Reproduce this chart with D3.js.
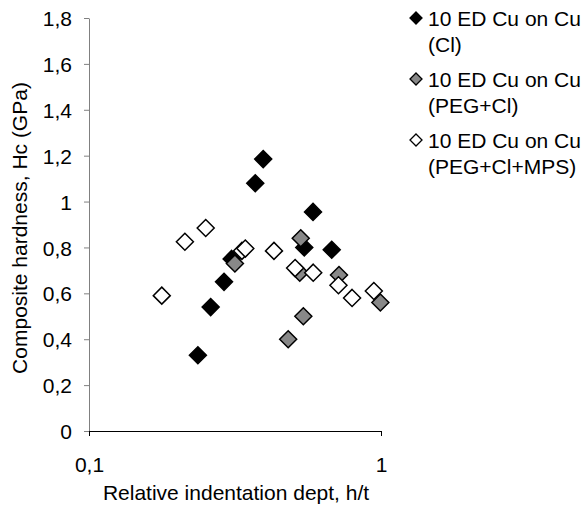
<!DOCTYPE html>
<html>
  <head>
    <meta charset='UTF-8'>
    <style>
    body { margin: 0; background: #fff; }
    svg { font-family: 'Liberation Sans', Arial, sans-serif; }
    text { font-size: 21px; fill: #000; }
    </style>
  </head>
  <body>
  <script src='https://cdnjs.cloudflare.com/ajax/libs/d3/7.8.5/d3.min.js'></script>
  <script>

    // series values
    var clX = [0.236, 0.261, 0.290, 0.308, 0.371, 0.395, 0.546, 0.585, 0.678];
    var clY = [0.33, 0.54, 0.65, 0.75, 1.08, 1.185, 0.80, 0.955, 0.79];

    var pegX = [0.316, 0.531, 0.527, 0.718, 0.995, 0.542, 0.481];
    var pegY = [0.73, 0.84, 0.69, 0.68, 0.56, 0.50, 0.40];

    var mpsX = [0.1775, 0.213, 0.251, 0.334, 0.343, 0.430, 0.508, 0.586, 0.715, 0.796, 0.945];
    var mpsY = [0.59, 0.825, 0.885, 0.785, 0.795, 0.785, 0.71, 0.69, 0.635, 0.58, 0.61];

    var seriesNames = ['10 ED Cu on Cu', '10 ED Cu on Cu', '10 ED Cu on Cu'];
    var seriesSub = ['(Cl)', '(PEG+Cl)', '(PEG+Cl+MPS)'];
    var seriesFill = ['#000', '#888', '#fff'];

    var yTicks = [0, 0.2, 0.4, 0.6, 0.8, 1, 1.2, 1.4, 1.6, 1.8];
    var xTicks = [0.1, 1];

    var W = 584, H = 511;
    var svg = d3.select('body').append('svg')
      .attr('width', W)
      .attr('height', H);

    var x = d3.scaleLog().domain([0.1, 1]).range([89, 381]);
    var y = d3.scaleLinear().domain([0, 1.8]).range([431, 18]);

    var comma = function(d) { return String(+d.toFixed(1)).replace('.', ','); };

    // y axis (grey)
    var gy = svg.append('g')
      .attr('transform', 'translate(' + x(0.1) + ',0)')
      .call(d3.axisLeft(y).tickValues(yTicks).tickFormat(comma).tickSize(5).tickSizeOuter(0).tickPadding(12));
    gy.select('.domain').attr('stroke', '#808080');
    gy.selectAll('line').attr('stroke', '#808080');
    gy.selectAll('text').attr('font-size', 20).attr('font-family', null).attr('dy', '0.36em');

    // x axis (black)
    var gx = svg.append('g')
      .attr('transform', 'translate(0,' + y(0) + ')')
      .call(d3.axisBottom(x).tickValues(xTicks).tickFormat(comma).tickSize(5).tickSizeOuter(0).tickPadding(21));
    gx.select('.domain').attr('stroke', '#000');
    gx.selectAll('line').attr('stroke', '#000');
    gx.selectAll('text').attr('font-size', 20).attr('font-family', null);

    // axis titles
    svg.append('text')
      .attr('x', 236).attr('y', 500)
      .attr('text-anchor', 'middle')
      .text('Relative indentation dept, h/t');

    svg.append('text')
      .attr('transform', 'translate(27,228) rotate(-90)')
      .attr('text-anchor', 'middle')
      .text('Composite hardness, Hc (GPa)');

    var diamond = function(r) {
      return 'M0,' + (-r) + 'L' + r + ',0L0,' + r + 'L' + (-r) + ',0Z';
    };

    var series = [
      d3.zip(clX, clY),
      d3.zip(pegX, pegY),
      d3.zip(mpsX, mpsY)
    ];

    series.forEach(function(pts, i) {
      svg.append('g').selectAll('path')
        .data(pts)
        .enter()
        .append('path')
        .attr('d', diamond(8.5))
        .attr('transform', function(d) { return 'translate(' + x(d[0]) + ',' + y(d[1]) + ')'; })
        .attr('fill', seriesFill[i])
        .attr('stroke', '#000')
        .attr('stroke-width', 1.5);
    });

    // legend
    var lg = svg.append('g').selectAll('g')
      .data(seriesNames)
      .enter()
      .append('g')
      .attr('transform', function(d, i) { return 'translate(416,' + (18 + i * 61) + ')'; });

    lg.append('path')
      .attr('d', diamond(6))
      .attr('fill', function(d, i) { return seriesFill[i]; })
      .attr('stroke', '#000')
      .attr('stroke-width', 1.3);

    lg.append('text')
      .attr('x', 12).attr('y', 8)
      .text(function(d) { return d; });

    lg.append('text')
      .attr('x', 12).attr('y', 34)
      .text(function(d, i) { return seriesSub[i]; });

  </script>
  </body>
</html>
